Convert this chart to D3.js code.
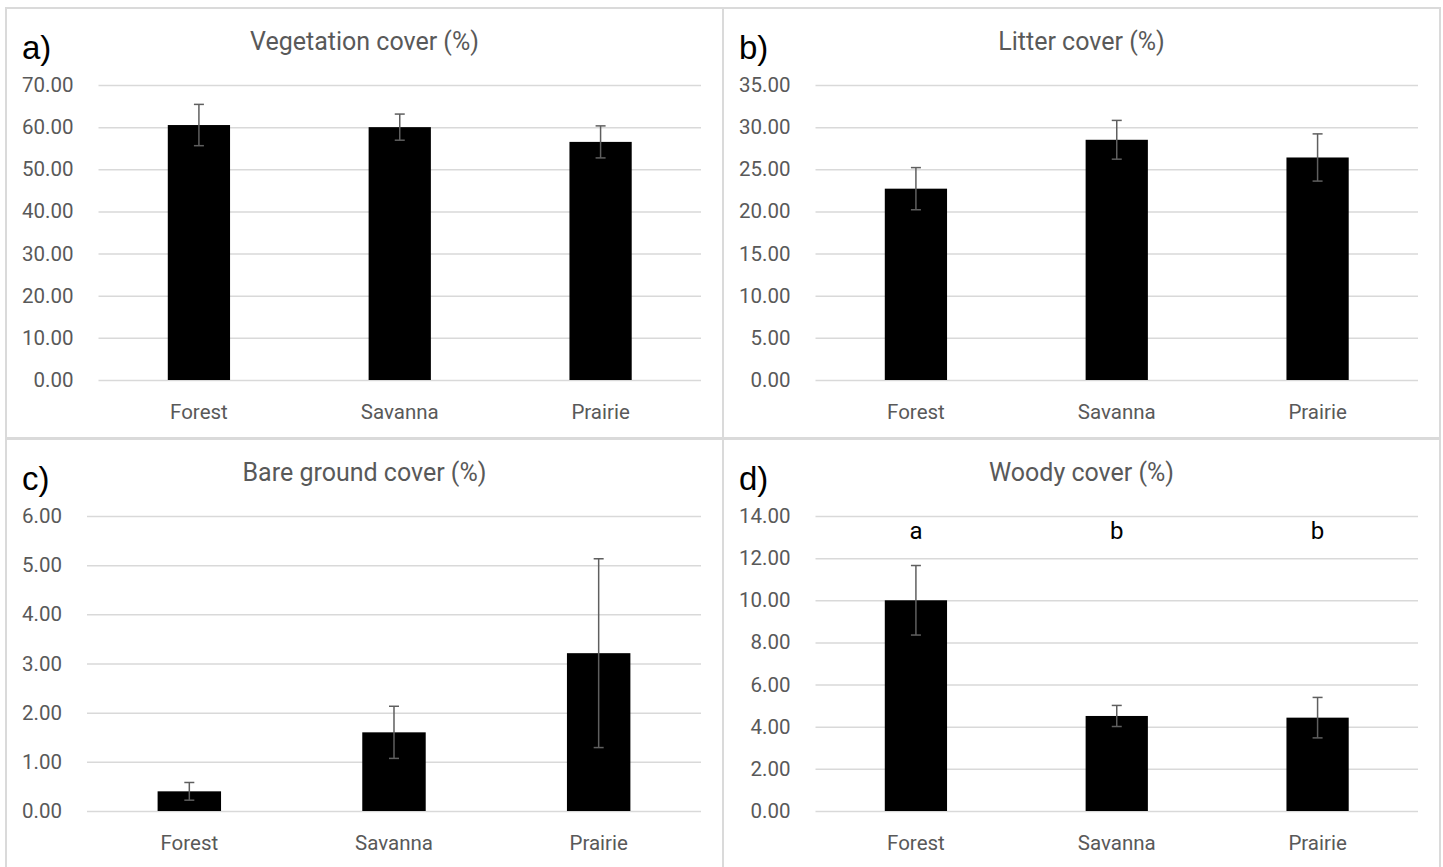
<!DOCTYPE html>
<html>
<head>
<meta charset="utf-8">
<script src="https://cdn.jsdelivr.net/npm/d3@7"></script>
<style>
  body { margin: 0; background: #fff; }
  svg text { font-family: Roboto, "Liberation Sans", sans-serif; }
</style>
</head>
<body>
<script>
// categories and values
var categories = ['Forest', 'Savanna', 'Prairie']

var vegMean = [60.5, 60.0, 56.5]
var vegErr = [4.9, 3.1, 3.8]

var litterMean = [22.7, 28.5, 26.4]
var litterErr = [2.5, 2.3, 2.8]

var bareMean = [0.40, 1.60, 3.21]
var bareErr = [0.18, 0.53, 1.92]

var woodyMean = [10.0, 4.51, 4.43]
var woodyErr = [1.65, 0.50, 0.96]
var woodyLetters = ['a', 'b', 'b']

var panelTags = ['a)', 'b)', 'c)', 'd)']
var panelTitles = ['Vegetation cover (%)', 'Litter cover (%)', 'Bare ground cover (%)', 'Woody cover (%)']
var yMax = [70, 35, 6, 14]
var yStep = [10, 5, 1, 2]

;(function () {
    var W = 1443, H = 867
    var svg = d3.select('body').append('svg')
        .attr('width', W)
        .attr('height', H)

    var panels = [
        { x: 6, y: 8, mean: vegMean, err: vegErr },
        { x: 723, y: 8, mean: litterMean, err: litterErr },
        { x: 6, y: 439, mean: bareMean, err: bareErr },
        { x: 723, y: 439, mean: woodyMean, err: woodyErr, letters: woodyLetters }
    ]
    var pw = 717, ph = 430
    var fmt = d3.format('.2f')

    // panel frames
    svg.append('g').selectAll('rect')
        .data(panels)
        .enter().append('rect')
        .attr('x', function (d) { return d.x })
        .attr('y', function (d) { return d.y })
        .attr('width', pw)
        .attr('height', ph)
        .attr('fill', '#fff')
        .attr('stroke', '#dadada')
        .attr('stroke-width', 2)

    panels.forEach(function (p, i) {
        var g = svg.append('g').attr('transform', 'translate(' + p.x + ',' + p.y + ')')
        var ticks = d3.range(0, yMax[i] + yStep[i] / 2, yStep[i])

        // measure widest tick label so the plot starts where Excel puts it
        var probe = g.append('text').attr('font-size', 20.5).text(fmt(yMax[i]))
        var labelW = probe.node().getComputedTextLength()
        probe.remove()

        var left = 16 + labelW + 25, right = pw - 22
        var top = 77, bottom = 372

        var x = d3.scaleBand().domain(categories).range([left, right]).padding(0)
        var y = d3.scaleLinear().domain([0, yMax[i]]).range([bottom, top])
        var barW = x.bandwidth() * 0.31

        // gridlines + y labels
        var ya = g.append('g')
            .attr('transform', 'translate(' + left + ',0)')
            .call(d3.axisLeft(y).tickValues(ticks).tickFormat(fmt).tickSize(-(right - left)).tickPadding(25))
        ya.select('.domain').remove()
        ya.selectAll('line').attr('stroke', '#d9d9d9').attr('stroke-width', 1.5)
        ya.selectAll('text').attr('fill', '#595959').attr('font-size', 20.5)

        // x labels
        var xa = g.append('g')
            .attr('transform', 'translate(0,' + bottom + ')')
            .call(d3.axisBottom(x).tickSize(0).tickPadding(24))
        xa.select('.domain').remove()
        xa.selectAll('text').attr('fill', '#595959').attr('font-size', 20.5)

        // bars
        g.append('g').selectAll('rect')
            .data(p.mean)
            .enter().append('rect')
            .attr('x', function (d, j) { return x(categories[j]) + x.bandwidth() / 2 - barW / 2 })
            .attr('y', function (d) { return y(d) })
            .attr('width', barW)
            .attr('height', function (d) { return y(0) - y(d) })
            .attr('fill', '#000')

        // error bars
        var eb = g.append('g').attr('stroke', '#5f5f5f').attr('stroke-width', 1.5)
        p.mean.forEach(function (m, j) {
            var cx = x(categories[j]) + x.bandwidth() / 2
            eb.append('line').attr('x1', cx).attr('x2', cx).attr('y1', y(m - p.err[j])).attr('y2', y(m + p.err[j]))
            eb.append('line').attr('x1', cx - 5).attr('x2', cx + 5).attr('y1', y(m + p.err[j])).attr('y2', y(m + p.err[j]))
            eb.append('line').attr('x1', cx - 5).attr('x2', cx + 5).attr('y1', y(m - p.err[j])).attr('y2', y(m - p.err[j]))
        })

        // significance letters
        if (p.letters) {
            g.append('g').selectAll('text')
                .data(p.letters)
                .enter().append('text')
                .attr('x', function (d, j) { return x(categories[j]) + x.bandwidth() / 2 })
                .attr('y', y(yMax[i]) + 23)
                .attr('text-anchor', 'middle')
                .attr('font-size', 24)
                .attr('fill', '#000')
                .text(function (d) { return d })
        }

        // title
        g.append('text')
            .attr('x', pw / 2)
            .attr('y', 42)
            .attr('text-anchor', 'middle')
            .attr('font-size', 25)
            .attr('fill', '#595959')
            .text(panelTitles[i])

        // panel tag
        g.append('text')
            .attr('x', 16)
            .attr('y', 51)
            .attr('font-size', 33)
            .style('font-family', '"Liberation Sans", Arial, sans-serif')
            .attr('fill', '#000')
            .text(panelTags[i])
    })
})()
</script>
</body>
</html>
